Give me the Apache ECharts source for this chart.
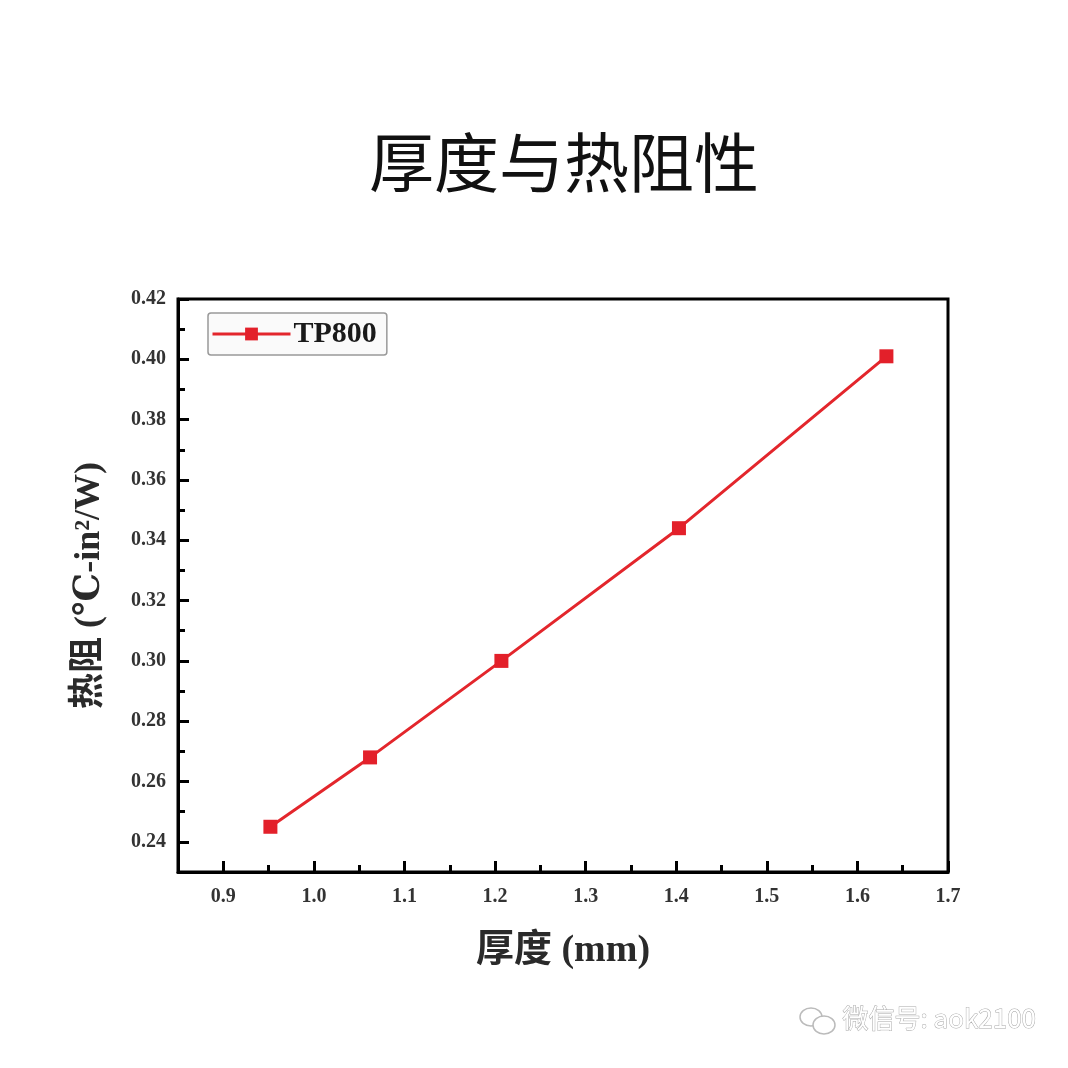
<!DOCTYPE html>
<html>
<head>
<meta charset="utf-8">
<script src="https://cdn.jsdelivr.net/npm/echarts@6/dist/echarts.min.js"></script>
<style>
html,body{margin:0;padding:0;background:#fff;}
#c{width:1068px;height:1068px;}
</style>
</head>
<body>
<div id="c"></div>
<script>
// Data
const seriesName = 'TP800';
const thickness = [0.952, 1.062, 1.207, 1.403, 1.632];
const resistance = [0.245, 0.268, 0.300, 0.344, 0.401];
const xMajorTicks = [0.9, 1.0, 1.1, 1.2, 1.3, 1.4, 1.5, 1.6, 1.7];
const xMinorTicks = [0.95, 1.05, 1.15, 1.25, 1.35, 1.45, 1.55, 1.65];
const yMajorTicks = [0.24, 0.26, 0.28, 0.30, 0.32, 0.34, 0.36, 0.38, 0.40, 0.42];
const yMinorTicks = [0.25, 0.27, 0.29, 0.31, 0.33, 0.35, 0.37, 0.39, 0.41];
const titleText = '厚度与热阻性';
const xName = '厚度 (mm)';
const yName = '热阻 (℃-in²/W)';
const watermark = '微信号: aok2100';

const serif = '"Liberation Serif", "DejaVu Serif", "Noto Sans CJK SC", serif';
const points = thickness.map((x, i) => [x, resistance[i]]);

const chart = echarts.init(document.getElementById('c'));
chart.setOption({
  backgroundColor: '#fff',
  animation: false,
  title: {
    text: titleText,
    left: 364,
    top: 125,
    textStyle: { fontFamily: '"Noto Sans CJK SC", sans-serif', fontSize: 65, fontWeight: 'normal', color: '#111' }
  },
  legend: {
    left: 208, top: 313,
    padding: [6, 10, 6, 3],
    borderColor: '#999', borderWidth: 1.5, borderRadius: 3,
    backgroundColor: '#fafafa',
    itemWidth: 78, itemHeight: 16, itemGap: 4,
    lineStyle: { width: 3 },
    textStyle: { fontFamily: serif, fontWeight: 'bold', fontSize: 30, color: '#1a1a1a', padding: [0, 0, 0, -2] },
    data: [{ name: seriesName }]
  },
  grid: { left: 178, right: 120, top: 299, bottom: 196, show: true, borderColor: '#000', borderWidth: 3, backgroundColor: 'transparent' },
  xAxis: [{
    type: 'value', min: 0.85, max: 1.7,
    position: 'bottom',
    name: xName, nameLocation: 'middle', nameGap: 60,
    nameTextStyle: { fontFamily: serif, fontWeight: 'bold', fontSize: 38, color: '#2a2a2a' },
    axisLine: { show: true, lineStyle: { color: '#000', width: 3 } },
    axisTick: { show: true, inside: true, length: 11, lineStyle: { color: '#000', width: 3 }, customValues: xMajorTicks },
    axisLabel: { show: true, margin: 15, fontFamily: serif, fontWeight: 'bold', fontSize: 20, color: '#333', customValues: xMajorTicks, formatter: v => v.toFixed(1) },
    splitLine: { show: false }
  }, {
    type: 'value', min: 0.85, max: 1.7,
    position: 'bottom',
    axisLine: { show: false },
    axisTick: { show: true, inside: true, length: 7, lineStyle: { color: '#000', width: 3 }, customValues: xMinorTicks },
    axisLabel: { show: false },
    splitLine: { show: false }
  }],
  yAxis: [{
    type: 'value', min: 0.23, max: 0.42,
    position: 'left',
    name: yName, nameLocation: 'middle', nameGap: 70, nameRotate: 90,
    nameTextStyle: { fontFamily: serif, fontWeight: 'bold', fontSize: 36, color: '#2a2a2a' },
    axisLine: { show: true, lineStyle: { color: '#000', width: 3 } },
    axisTick: { show: true, inside: true, length: 11, lineStyle: { color: '#000', width: 3 }, customValues: yMajorTicks },
    axisLabel: { show: true, margin: 12, fontFamily: serif, fontWeight: 'bold', fontSize: 20, color: '#333', customValues: yMajorTicks, formatter: v => v.toFixed(2) },
    splitLine: { show: false }
  }, {
    type: 'value', min: 0.23, max: 0.42,
    position: 'left',
    axisLine: { show: false },
    axisTick: { show: true, inside: true, length: 7, lineStyle: { color: '#000', width: 3 }, customValues: yMinorTicks },
    axisLabel: { show: false },
    splitLine: { show: false }
  }],
  series: [{
    name: seriesName,
    type: 'line',
    xAxisIndex: 0, yAxisIndex: 0,
    data: points,
    symbol: 'rect', symbolSize: 14,
    itemStyle: { color: '#e3202a' },
    lineStyle: { color: '#e3262c', width: 3 }
  }],
  graphic: [
    { type: 'ellipse', shape: { cx: 811, cy: 1017, rx: 11, ry: 9 }, style: { fill: 'none', stroke: '#bbb', lineWidth: 1.5 } },
    { type: 'ellipse', shape: { cx: 824, cy: 1025, rx: 11, ry: 9 }, style: { fill: '#fff', stroke: '#bbb', lineWidth: 1.5 } },
    { type: 'text', left: 842, top: 1005, style: { text: watermark, fontFamily: '"Noto Sans CJK SC", sans-serif', fontSize: 26, fill: '#fff', stroke: '#aaa', lineWidth: 1 } }
  ]
});
</script>
</body>
</html>
